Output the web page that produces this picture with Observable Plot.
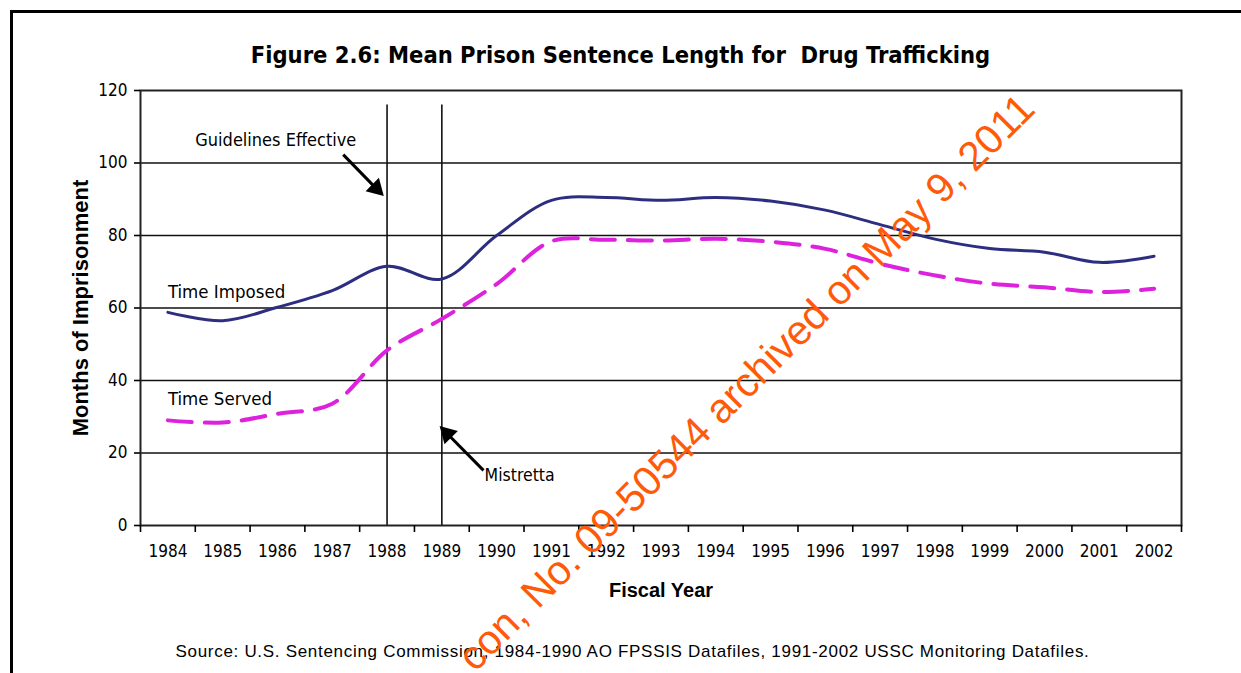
<!DOCTYPE html>
<html>
<head>
<meta charset="utf-8">
<script src="https://cdn.jsdelivr.net/npm/d3@7"></script>
<script src="https://cdn.jsdelivr.net/npm/@observablehq/plot@0.6"></script>
<style>
  body { margin: 0; background: #fff; }
  #page { position: relative; width: 1241px; height: 673px; overflow: hidden; background: #fff; }
  #topline { position: absolute; left: 10px; top: 10px; width: 1231px; height: 3px; background: #000; }
  #leftline { position: absolute; left: 10px; top: 10px; width: 3px; height: 663px; background: #000; }
  #title { height: 70px; width: 1241px; box-sizing: border-box; padding-top: 40px; text-align: center;
           font-family: "Liberation Sans Narrow", "DejaVu Sans Condensed", sans-serif; font-weight: bold; font-size: 23.5px; line-height: 30px; color: #000; }
  #chart { height: 530px; }
  #source { height: 73px; text-align: center; box-sizing: border-box; padding-top: 42px; padding-left: 24px;
            font-family: "Liberation Sans", Arial, sans-serif; font-size: 17px; letter-spacing: 0.7px; line-height: 20px; color: #000; }
  #wm { position: absolute; left: 0; top: 0; pointer-events: none; }
</style>
</head>
<body>
<div id="page">
  <div id="topline"></div>
  <div id="leftline"></div>
  <div id="title">Figure 2.6: Mean Prison Sentence Length for&nbsp; Drug Trafficking</div>
  <div id="chart"></div>
  <div id="source">Source: U.S. Sentencing Commission, 1984-1990 AO FPSSIS Datafiles, 1991-2002 USSC Monitoring Datafiles.</div>
  <svg id="wm" width="1241" height="673">
    <text x="1037" y="111" text-anchor="end" transform="rotate(-45 1037 111)"
          font-family="Liberation Sans, Arial, sans-serif" font-size="41" fill="#FF5A0A">con, No. 09-50544 archived on May 9, 2011</text>
  </svg>
</div>
<script>
// ---- data ----
const years = [1984, 1985, 1986, 1987, 1988, 1989, 1990, 1991, 1992, 1993, 1994, 1995, 1996, 1997, 1998, 1999, 2000, 2001, 2002];
const timeImposed = [58.8, 56.5, 60.2, 64.8, 71.5, 68.0, 80.0, 89.7, 90.5, 89.7, 90.5, 89.5, 87.0, 83.0, 79.0, 76.4, 75.4, 72.6, 74.3];
const timeServed  = [29.0, 28.4, 30.8, 33.6, 48.3, 57.0, 66.6, 78.4, 78.8, 78.6, 79.1, 78.3, 76.3, 72.2, 69.0, 66.7, 65.7, 64.4, 65.3];
const yTicks = [0, 20, 40, 60, 80, 100, 120];
const gridValues = [20, 40, 60, 80, 100];
const eventYears = [1988, 1989];
const seriesLabels = ["Time Imposed", "Time Served"];
const eventLabels = ["Guidelines Effective", "Mistretta"];

const rowsImposed = years.map((year, i) => ({year, value: timeImposed[i]}));
const rowsServed = years.map((year, i) => ({year, value: timeServed[i]}));
const boundaries = [years[0] - 0.5, ...years.map(y => y + 0.5)];

const narrow = "Liberation Sans Narrow, DejaVu Sans Condensed, sans-serif";
const sans = "Liberation Sans, Arial, sans-serif";

// annotation arrows: shaft + filled head
const arrowShafts = [
  {x1: 1987.2, y1: 102.3, x2: 1987.80, y2: 93.0},
  {x1: 1989.76, y1: 15.2, x2: 1989.10, y2: 25.3}
];
const arrowHeads = [
  {x: 1987.80, y: 93.0, angle: 135},
  {x: 1989.10, y: 25.3, angle: -45}
];

const chart = Plot.plot({
  width: 1241,
  height: 530,
  marginLeft: 140,
  marginRight: 60,
  marginTop: 20,
  marginBottom: 75,
  style: { fontFamily: narrow, fontSize: "17px", color: "#000", background: "transparent", overflow: "visible" },
  x: { domain: [boundaries[0], boundaries[boundaries.length - 1]] },
  y: { domain: [0, 120] },
  marks: [
    Plot.ruleY(gridValues, { stroke: "#111", strokeWidth: 1.6 }),
    Plot.ruleX(eventYears, { y1: 0, y2: 116, stroke: "#111", strokeWidth: 1.6 }),
    Plot.frame({ stroke: "#222", strokeWidth: 2 }),
    Plot.axisY(yTicks, { tickSize: 6, tickPadding: 7, label: null, strokeWidth: 1.6, fontSize: 17 }),
    Plot.axisX(years, { tickSize: 0, tickPadding: 19, tickFormat: d => String(d), label: null, fontSize: 17 }),
    Plot.axisX(boundaries, { tickSize: 7, tickFormat: () => "", label: null, strokeWidth: 1.6 }),
    Plot.text(["Fiscal Year"], { frameAnchor: "bottom", dy: 71, fontWeight: "bold", fontSize: 20, fontFamily: sans }),
    Plot.text(["Months of Imprisonment"], { frameAnchor: "left", dx: -60, rotate: -90, textAnchor: "middle", fontWeight: "bold", fontSize: 22, fontFamily: sans }),
    Plot.line(rowsImposed, { x: "year", y: "value", stroke: "#2E2E80", strokeWidth: 3, curve: "catmull-rom" }),
    Plot.line(rowsServed, { x: "year", y: "value", stroke: "#DD22DD", strokeWidth: 4, strokeDasharray: "24,13", curve: "catmull-rom" }),
    Plot.text([{x: 1984.5, y: 106.2, t: eventLabels[0]}], { x: "x", y: "y", text: "t", textAnchor: "start", fontSize: 18 }),
    Plot.text([{x: 1989.78, y: 13.8, t: eventLabels[1]}], { x: "x", y: "y", text: "t", textAnchor: "start", fontSize: 17.5 }),
    Plot.link(arrowShafts, { x1: "x1", y1: "y1", x2: "x2", y2: "y2", stroke: "#000", strokeWidth: 3 }),
    Plot.dot(arrowHeads, { x: "x", y: "y", symbol: "triangle", r: 7, fill: "#000", stroke: "none", rotate: "angle" }),
    Plot.text([{x: 1984.0, y: 64.3, t: seriesLabels[0]}, {x: 1984.0, y: 35.0, t: seriesLabels[1]}], { x: "x", y: "y", text: "t", textAnchor: "start", fontSize: 18.5 })
  ]
});
document.getElementById("chart").appendChild(chart);
</script>
</body>
</html>
